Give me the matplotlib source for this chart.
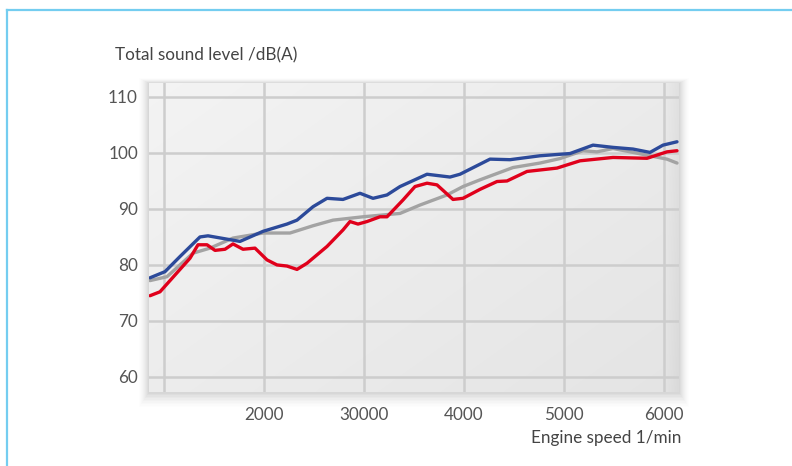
import numpy as np
import matplotlib
matplotlib.use("Agg")
import matplotlib.pyplot as plt
from matplotlib.patches import Rectangle
from matplotlib.lines import Line2D

plt.rcParams['font.family'] = ['Lato', 'DejaVu Sans']

# ---------------- data ----------------
blue_rpm = [860, 1010, 1160, 1360, 1440, 1760, 1990, 2230, 2330, 2490, 2630, 2790,
            2960, 3090, 3230, 3360, 3630, 3860, 3960, 4260, 4460, 4760, 5060, 5290,
            5490, 5690, 5860, 5990, 6130]
blue_db = [77.7, 78.8, 81.5, 85.0, 85.2, 84.2, 86.0, 87.3, 88.0, 90.4, 91.9, 91.7,
           92.8, 91.9, 92.5, 94.0, 96.2, 95.7, 96.2, 98.9, 98.8, 99.5, 99.9, 101.4,
           101.0, 100.7, 100.1, 101.4, 102.0]

gray_rpm = [860, 1030, 1290, 1460, 1690, 1990, 2260, 2490, 2690, 2990, 3360, 3560,
            3830, 3990, 4160, 4490, 4760, 4960, 5190, 5330, 5490, 5690, 5860, 6030, 6130]
gray_db = [77.2, 77.9, 82.1, 83.0, 84.8, 85.7, 85.7, 87.0, 88.0, 88.6, 89.2, 90.7,
           92.5, 94.0, 95.2, 97.4, 98.2, 99.0, 100.4, 100.2, 100.8, 100.1, 99.5, 98.9, 98.2]

red_rpm = [860, 960, 1260, 1340, 1430, 1510, 1610, 1690, 1790, 1910, 2030, 2130,
           2230, 2330, 2430, 2630, 2790, 2860, 2940, 3030, 3160, 3230, 3390, 3510,
           3630, 3730, 3890, 3990, 4160, 4330, 4430, 4630, 4930, 5160, 5490, 5830,
           6030, 6130]
red_db = [74.5, 75.2, 81.2, 83.6, 83.6, 82.6, 82.8, 83.75, 82.8, 83.0, 80.9, 80.0,
          79.8, 79.2, 80.3, 83.3, 86.25, 87.75, 87.3, 87.75, 88.6, 88.6, 91.6, 94.0,
          94.6, 94.3, 91.7, 91.9, 93.5, 94.9, 95.0, 96.7, 97.3, 98.6, 99.2, 99.05,
          100.2, 100.4]

x_ticks = [2000, 3000, 4000, 5000, 6000]
x_tick_labels = ["2000", "30000", "4000", "5000", "6000"]
x_grid = [1000, 2000, 3000, 4000, 5000, 6000]
y_ticks = [60, 70, 80, 90, 100, 110]
y_tick_labels = ["60", "70", "80", "90", "100", "110"]

# ---------------- figure ----------------
W, H = 792, 466
fig = plt.figure(figsize=(W / 100, H / 100), dpi=100)
fig.patch.set_facecolor("white")

ax_l, ax_r, ax_t, ax_b = 149, 679, 83, 392
pos = [ax_l / W, 1 - ax_b / H, (ax_r - ax_l) / W, (ax_b - ax_t) / H]

# soft drop shadow behind plot area
for i, a in enumerate(np.linspace(0.025, 0.006, 10)):
    d = i + 1
    fig.patches.append(Rectangle(((ax_l - d * 1.0) / W, 1 - (ax_b + d * 1.5) / H),
                                 (ax_r - ax_l + d * 2.0) / W, (ax_b - ax_t + d * 2.0) / H,
                                 transform=fig.transFigure, facecolor="black",
                                 edgecolor="none", alpha=a, zorder=0))

ax = fig.add_axes(pos)
ax.set_zorder(1)

# gradient background
ny, nx = 200, 400
yy, xx = np.mgrid[0:1:ny * 1j, 0:1:nx * 1j]
val = 0.955 - 0.06 * (0.55 * xx + 0.45 * yy)
edge = np.clip((xx - 0.97) / 0.03, 0, 1)
val = val - 0.04 * edge
img = np.dstack([val, val, val])
ax.imshow(img, extent=[0, 1, 0, 1], transform=ax.transAxes, aspect="auto",
          origin="upper", zorder=0, interpolation="bilinear")

ax.set_xlim(850, 6150)
ax.set_ylim(57.3, 112.5)

grid_c = "#cdcdcd"
for g in x_grid:
    ax.axvline(g, color=grid_c, lw=1.8, zorder=1)
for g in y_ticks:
    ax.axhline(g, color=grid_c, lw=1.8, zorder=1)

lw = 2.4
ax.plot(gray_rpm, gray_db, color="#a3a3a3", lw=lw, solid_joinstyle="round",
        solid_capstyle="round", zorder=3)
ax.plot(red_rpm, red_db, color="#e0001b", lw=lw, solid_joinstyle="round",
        solid_capstyle="round", zorder=4)
ax.plot(blue_rpm, blue_db, color="#2c4a9a", lw=lw, solid_joinstyle="round",
        solid_capstyle="round", zorder=5)

for s in ax.spines.values():
    s.set_visible(False)

ax.set_xticks(x_ticks)
ax.set_xticklabels(x_tick_labels)
ax.set_yticks(y_ticks)
ax.set_yticklabels(y_tick_labels)
ax.tick_params(length=0, labelsize=12.3, colors="#555555", pad=8)
ax.tick_params(axis="x", pad=11)

fig.text(115 / W, 1 - 55 / H, "Total sound level /dB(A)", fontsize=12.3,
         color="#444444", va="center", ha="left")
fig.text(681 / W, 1 - 438 / H, "Engine speed 1/min", fontsize=12.3,
         color="#444444", va="center", ha="right")

# light blue frame (top and left)
fig.lines.append(Line2D([7 / W, 1], [1 - 10 / H, 1 - 10 / H], transform=fig.transFigure,
                        color="#74cdf0", lw=1.6))
fig.lines.append(Line2D([7 / W, 7 / W], [0, 1 - 10 / H], transform=fig.transFigure,
                        color="#74cdf0", lw=1.6))

fig.savefig("out.png", dpi=100)
